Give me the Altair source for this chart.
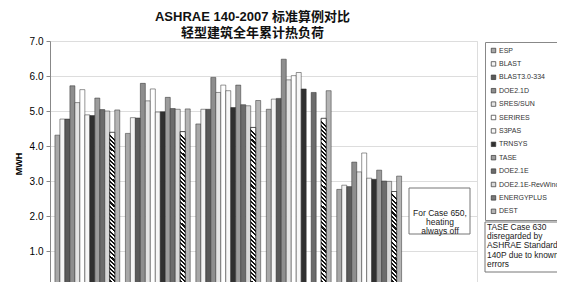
import altair as alt
import pandas as pd

# ---------------- data ----------------
cases = ["600", "610", "620", "630", "640", "650"]
series = ["ESP", "BLAST", "BLAST3.0-334", "DOE2.1D", "SRES/SUN", "SERIRES", "S3PAS",
          "TRNSYS", "TASE", "DOE2.1E", "DOE2.1E-RevWindow", "ENERGYPLUS", "DEST"]
colors = ["#a8a8a8", "#f4f4f4", "#5a5a5a", "#8e8e8e", "#e4e4e4", "#ffffff", "#f7f7f7",
          "#303030", "#9c9c9c", "#6c6c6c", "#d8d8d8", "#7a7a7a", "#b4b4b4"]

case600 = [4.31, 4.77, 4.77, 5.72, 5.24, 5.61, 4.89, 4.87, 5.37, 5.04, 5.00, 4.39, 5.03]
case610 = [4.36, 4.81, 4.80, 5.79, 5.29, 5.63, 4.97, 4.98, 5.39, 5.07, 5.05, 4.41, 5.06]
case620 = [4.63, 5.05, 5.05, 5.96, 5.53, 5.74, 5.58, 5.10, 5.74, 5.18, 5.15, 4.53, 5.30]
case630 = [5.05, 5.34, 5.36, 6.48, 5.89, 6.01, 6.10, 5.63, None, 5.53, None, 4.79, 5.58]
case640 = [2.76, 2.88, 2.84, 3.54, 3.26, 3.80, 3.08, 3.05, 3.31, 3.00, 2.99, 2.70, 3.14]
case650 = [None] * 13

title_lines = ["ASHRAE 140-2007 标准算例对比", "轻型建筑全年累计热负荷"]
note650_lines = ["For Case 650,", "heating", "always off"]
tase_lines = ["TASE Case 630", "disregarded by", "ASHRAE Standard", "140P due to  known", "errors"]
y_ticks = [0, 1, 2, 3, 4, 5, 6, 7]

rows = []
for c, vals in zip(cases, [case600, case610, case620, case630, case640, case650]):
    for s, v in zip(series, vals):
        if v is not None:
            rows.append({"case": c, "series": s, "value": v})
df = pd.DataFrame(rows)

FONT = "Liberation Sans, Arial, Noto Sans CJK SC"
PX_PER_UNIT = 35.0
BAR_W = 4.9

x_enc = alt.X("case:N", scale=alt.Scale(domain=cases, paddingInner=0.08, paddingOuter=0.07), axis=None)
xo_enc = alt.XOffset("series:N", scale=alt.Scale(domain=series, paddingInner=0, paddingOuter=0))
y_enc = alt.Y("value:Q",
              scale=alt.Scale(domain=[0, 7], nice=False),
              axis=alt.Axis(values=y_ticks, format=".1f", title="MWH", titleFontSize=9,
                            titleFontWeight="bold", titleFont=FONT, titlePadding=6,
                            tickSize=4, labelPadding=3, grid=True))

bars = alt.Chart(df).mark_bar(stroke="#2a2a2a", strokeWidth=0.5).encode(
    x=x_enc, xOffset=xo_enc, y=y_enc,
    color=alt.Color("series:N", scale=alt.Scale(domain=series, range=colors),
                    legend=alt.Legend(orient="none", legendX=435, legendY=1, title=None,
                                      symbolType="square", symbolSize=20,
                                      symbolStrokeColor="#333", symbolStrokeWidth=0.7,
                                      labelFontSize=7, labelFont=FONT, labelColor="#333",
                                      rowPadding=4.4, padding=5, strokeColor="#888",
                                      fillColor="white", labelLimit=300, labelOffset=2)),
)

layers = [bars]

# hatched overlay for ENERGYPLUS bars (diagonal stripes via a hard-stop gradient)
ep = df[df.series == "ENERGYPLUS"]
for _, r in ep.iterrows():
    h = r.value * PX_PER_UNIT
    n = max(int(round(h / 4.2)), 1)
    stops = []
    for k in range(n):
        a = k / n
        b = (k + 0.5) / n
        c = (k + 1) / n
        stops += [alt.GradientStop(offset=a, color="#ffffff"),
                  alt.GradientStop(offset=b, color="#ffffff"),
                  alt.GradientStop(offset=b, color="#111111"),
                  alt.GradientStop(offset=c, color="#111111")]
    grad = alt.LinearGradient(gradient="linear", stops=stops,
                              x1=BAR_W / h, x2=0, y1=0, y2=1)
    layers.append(
        alt.Chart(df).transform_filter(
            (alt.datum.series == "ENERGYPLUS") & (alt.datum.case == r.case)
        ).mark_bar(color=grad, stroke="#111", strokeWidth=0.6).encode(
            x=x_enc, xOffset=xo_enc, y=y_enc)
    )

one = pd.DataFrame({"k": [0]})

box650 = alt.Chart(one).mark_rect(fill="white", stroke="#777", strokeWidth=1).encode(
    x=alt.value(359), x2=alt.value(420), y=alt.value(147), y2=alt.value(193))
text650 = alt.Chart(one).mark_text(text=note650_lines, align="center", baseline="middle",
                                   fontSize=8.5, lineHeight=9.4, font=FONT, color="#222").encode(
    x=alt.value(390), y=alt.value(171.5))

box_tase = alt.Chart(one).mark_rect(fill="white", stroke="#777", strokeWidth=1).encode(
    x=alt.value(435), x2=alt.value(540), y=alt.value(181), y2=alt.value(231))
text_tase = alt.Chart(one).mark_text(text=tase_lines, align="left", baseline="top",
                                     fontSize=8.4, lineHeight=9.2, font=FONT, color="#222").encode(
    x=alt.value(437), y=alt.value(182))

layers += [box650, text650, box_tase, text_tase]

chart = alt.layer(*layers).properties(
    width=427, height=245,
    title=alt.TitleParams(title_lines, fontSize=13, fontWeight="bold", font=FONT,
                          anchor="middle", dx=-11, dy=6.5, offset=3, lineHeight=16, color="#111"),
    autosize=alt.AutoSizeParams(type="none"),
    padding={"left": 42, "top": 33, "right": 80, "bottom": -4},
).configure_view(stroke="#888", strokeWidth=1, fill="white").configure_axis(
    gridColor="#8c8c8c", gridWidth=1, domainColor="#888", tickColor="#888",
    labelColor="#222", labelFont=FONT, labelFontSize=9.5
).configure(background="white")

chart.save("out.html", embed_options={"renderer": "svg", "actions": False})
